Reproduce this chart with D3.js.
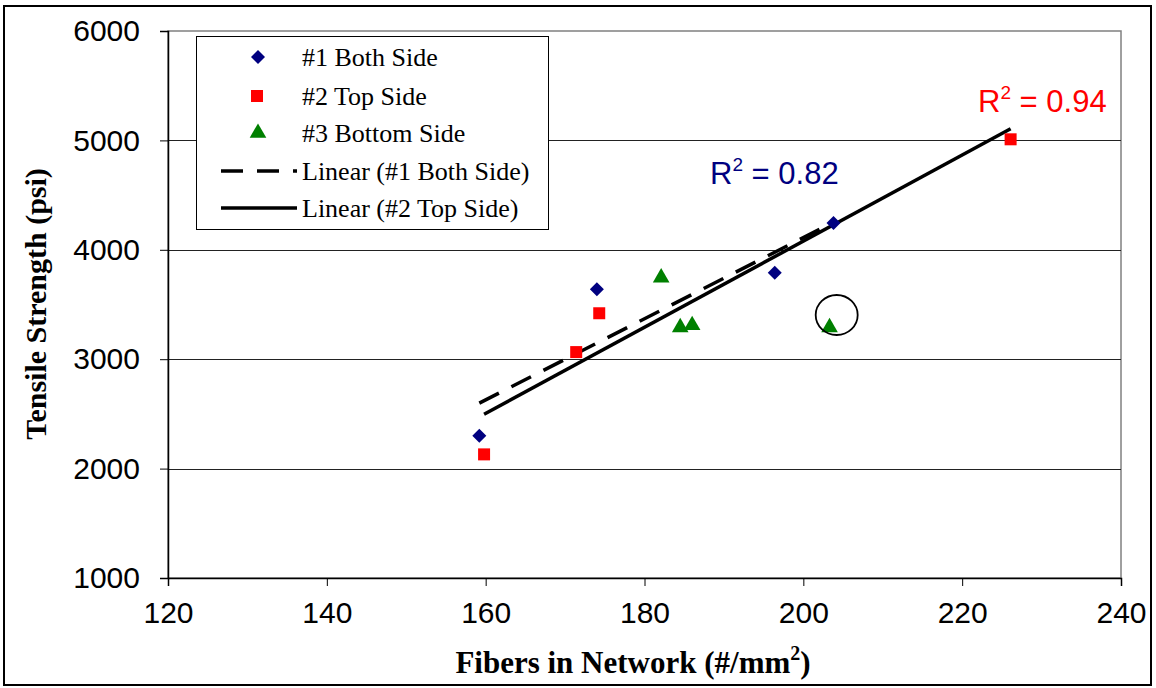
<!DOCTYPE html>
<html><head><meta charset="utf-8">
<script src="https://cdn.jsdelivr.net/npm/d3@7/dist/d3.min.js"></script>
<style>body{margin:0;background:#fff}svg{display:block}</style>
</head><body>
<svg id="c" width="1156" height="688"></svg>
<script>
// ---- data ----
const bothX = [159.2, 174.0, 196.4, 203.8];
const bothY = [2300, 3640, 3790, 4245];
const topX = [159.8, 171.4, 174.3, 226.1];
const topY = [2130, 3065, 3420, 5010];
const bottomX = [182.1, 184.5, 186.0, 203.3];
const bottomY = [3745, 3290, 3310, 3290];
const xTicks = [120, 140, 160, 180, 200, 220, 240];
const yTicks = [1000, 2000, 3000, 4000, 5000, 6000];
const seriesNames = ["#1 Both Side", "#2 Top Side", "#3 Bottom Side", "Linear (#1 Both Side)", "Linear (#2 Top Side)"];
const r2Labels = ["0.82", "0.94"];
const circledPoint = [204.2, 3404];

const svg = d3.select("#c");
const L = 168, R = 1121, T = 31, B = 578;
const x = d3.scaleLinear().domain([120, 240]).range([L, R]);
const y = d3.scaleLinear().domain([1000, 6000]).range([B, T]);

// outer frame
svg.append("rect").attr("x", 4).attr("y", 6).attr("width", 1147).attr("height", 679)
  .attr("fill", "none").attr("stroke", "#000").attr("stroke-width", 2);

// plot border (gray)
svg.append("rect").attr("x", L).attr("y", T).attr("width", R - L).attr("height", B - T)
  .attr("fill", "none").attr("stroke", "#808080").attr("stroke-width", 1.5);

// gridlines
svg.append("g").selectAll("line").data(yTicks.filter(d => d > 1000 && d < 6000)).join("line")
  .attr("x1", L).attr("x2", R).attr("y1", d => Math.round(y(d)) + 0.5).attr("y2", d => Math.round(y(d)) + 0.5)
  .attr("stroke", "#222").attr("stroke-width", 1);

// axes
const yAxis = svg.append("g").attr("transform", `translate(${L},0)`)
  .call(d3.axisLeft(y).tickValues(yTicks).tickSize(8).tickPadding(20).tickFormat(d3.format("d")));
const xAxis = svg.append("g").attr("transform", `translate(0,${B})`)
  .call(d3.axisBottom(x).tickValues(xTicks).tickSize(8).tickPadding(16).tickFormat(d3.format("d")));
[yAxis, xAxis].forEach(g => {
  g.select(".domain").attr("stroke", "#000").attr("stroke-width", 1.5);
  g.selectAll(".tick line").attr("stroke", "#000").attr("stroke-width", 1);
  g.selectAll("text").attr("font-family", "Liberation Sans, Arial, sans-serif").attr("font-size", 30).attr("fill", "#000");
});

// regression
function fit(xs, ys) {
  const mx = d3.mean(xs), my = d3.mean(ys);
  let sxy = 0, sxx = 0;
  xs.forEach((v, i) => { sxy += (v - mx) * (ys[i] - my); sxx += (v - mx) * (v - mx); });
  const b = sxy / sxx, a = my - b * mx;
  const x0 = d3.min(xs), x1 = d3.max(xs);
  return [[x0, a + b * x0], [x1, a + b * x1]];
}
const line = d3.line().x(d => x(d[0])).y(d => y(d[1]));
svg.append("path").attr("d", line(fit(bothX, bothY))).attr("fill", "none")
  .attr("stroke", "#000").attr("stroke-width", 3.5).attr("stroke-dasharray", "22,14");
svg.append("path").attr("d", line(fit(topX, topY))).attr("fill", "none")
  .attr("stroke", "#000").attr("stroke-width", 3.5);

// markers
const sym = {
  diamond: d3.symbol().type(d3.symbolSquare).size(98),
  square: d3.symbol().type(d3.symbolSquare).size(144),
  triangle: d3.symbol().type(d3.symbolTriangle).size(120)
};
function pts(xs, ys) { return xs.map((v, i) => [v, ys[i]]); }
svg.append("g").selectAll("path").data(pts(bothX, bothY)).join("path")
  .attr("d", sym.diamond()).attr("transform", d => `translate(${x(d[0])},${y(d[1])}) rotate(45)`).attr("fill", "#000080");
svg.append("g").selectAll("path").data(pts(topX, topY)).join("path")
  .attr("d", sym.square()).attr("transform", d => `translate(${x(d[0])},${y(d[1])})`).attr("fill", "#ff0000");
svg.append("g").selectAll("path").data(pts(bottomX, bottomY)).join("path")
  .attr("d", sym.triangle()).attr("transform", d => `translate(${x(d[0])},${y(d[1])})`).attr("fill", "#008000");

// annotation circle
svg.append("ellipse").attr("cx", x(circledPoint[0])).attr("cy", y(circledPoint[1]))
  .attr("rx", 21).attr("ry", 20).attr("fill", "none").attr("stroke", "#000").attr("stroke-width", 1.8);

// R^2 labels
function r2(xp, yp, val, color) {
  const t = svg.append("text").attr("x", xp).attr("y", yp).attr("fill", color)
    .attr("font-family", "Liberation Sans, Arial, sans-serif").attr("font-size", 31);
  t.append("tspan").text("R");
  t.append("tspan").attr("font-size", 19).attr("dy", -13).text("2");
  t.append("tspan").attr("dy", 13).text(" = " + val);
}
r2(710, 184, r2Labels[0], "#000080");
r2(978, 112, r2Labels[1], "#ff0000");

// legend
const lg = svg.append("g");
lg.append("rect").attr("x", 196.5).attr("y", 36.5).attr("width", 352).attr("height", 193)
  .attr("fill", "#fff").attr("stroke", "#000").attr("stroke-width", 1);
const ly = [57, 96, 133, 171, 208];
seriesNames.forEach((n, i) => {
  lg.append("text").attr("x", 302).attr("y", ly[i]).attr("dy", "0.35em")
    .attr("font-family", "Liberation Serif, Times New Roman, serif").attr("font-size", 26).attr("fill", "#000").text(n);
});
lg.append("path").attr("d", sym.diamond()).attr("transform", `translate(258,${ly[0]}) rotate(45)`).attr("fill", "#000080");
lg.append("path").attr("d", sym.square()).attr("transform", `translate(257,${ly[1]})`).attr("fill", "#ff0000");
lg.append("path").attr("d", sym.triangle()).attr("transform", `translate(258,${ly[2]})`).attr("fill", "#008000");
lg.append("line").attr("x1", 221).attr("x2", 297).attr("y1", ly[3]).attr("y2", ly[3])
  .attr("stroke", "#000").attr("stroke-width", 3.5).attr("stroke-dasharray", "22,14");
lg.append("line").attr("x1", 221).attr("x2", 297).attr("y1", ly[4]).attr("y2", ly[4])
  .attr("stroke", "#000").attr("stroke-width", 3.5);

// axis titles
svg.append("text").attr("transform", "translate(46,304) rotate(-90)").attr("text-anchor", "middle")
  .attr("font-family", "Liberation Serif, Times New Roman, serif").attr("font-weight", "bold").attr("font-size", 30)
  .text("Tensile Strength (psi)");
const xt = svg.append("text").attr("x", 633).attr("y", 673).attr("text-anchor", "middle")
  .attr("font-family", "Liberation Serif, Times New Roman, serif").attr("font-weight", "bold").attr("font-size", 31);
xt.append("tspan").text("Fibers in Network (#/mm");
xt.append("tspan").attr("font-size", 20).attr("dy", -13).text("2");
xt.append("tspan").attr("dy", 13).text(")");
</script>
</body></html>
